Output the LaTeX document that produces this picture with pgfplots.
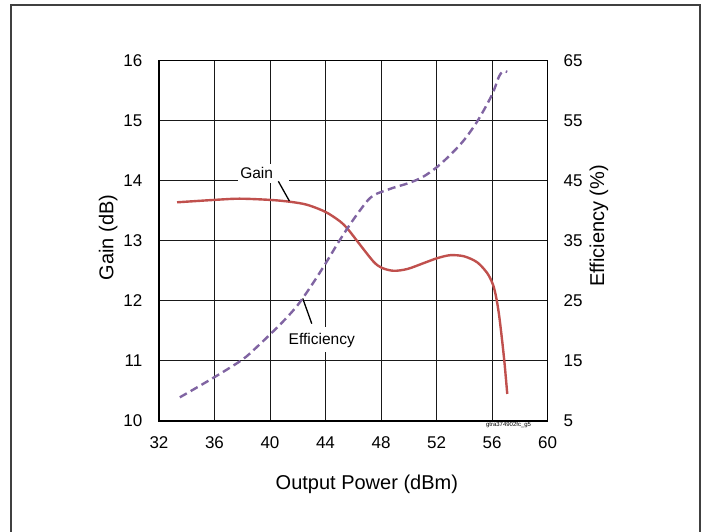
\documentclass[border=0pt]{standalone}
\usepackage{fontspec}
\setmainfont{Liberation Sans}
\usepackage{pgfplots}
\pgfplotsset{compat=1.18}
\definecolor{gainred}{HTML}{C0504D}
\definecolor{effpurple}{HTML}{8064A2}

% gain (dB) vs output power (dBm)
\pgfplotstableread{
x y
33.3 13.64
36.0 13.68
37.8 13.70
40.0 13.68
41.4 13.65
42.65 13.60
44.0 13.48
45.06 13.32
45.66 13.18
46.5 12.93
47.47 12.65
48.05 12.55
48.9 12.50
49.9 12.53
51.1 12.63
52.05 12.71
53.0 12.76
54.0 12.74
54.94 12.64
55.66 12.46
56.07 12.27
56.3 12.06
56.5 11.78
56.7 11.40
56.9 10.97
57.1 10.45
}\gaindata

% efficiency (%) vs output power (dBm)
\pgfplotstableread{
x y
33.5 8.95
34.0 9.6
36.0 12.3
38.0 15.2
39.0 17.2
40.0 19.4
41.0 21.7
42.0 24.3
43.0 27.6
44.0 31.2
45.0 35.0
46.0 38.5
47.0 41.6
47.5 42.6
48.0 43.1
49.0 43.9
50.0 44.6
51.0 45.6
52.0 47.2
53.0 49.3
54.0 51.8
55.0 55.1
56.0 59.3
56.5 62.3
56.8 63.2
57.1 63.1
}\effdata

\begin{document}
\begin{tikzpicture}[x=1pt,y=1pt]
\useasboundingbox (0,0) rectangle (704,531);
\draw[line width=2pt,black!75] (11,-2) -- (11,526.3) -- (699.5,526.3) -- (699.5,-2);

\begin{axis}[
    at={(159pt,110pt)}, anchor=south west,
    scale only axis, width=388.5pt, height=360.5pt,
    xmin=32, xmax=60, ymin=10, ymax=16,
    xtick={32,36,...,60}, ytick={10,11,...,16},
    grid=major, major grid style={black!90, line width=1pt},
    axis line style={line width=1.6pt},
    major tick length=0pt,
    tick label style={font=\fontsize{17}{20}\selectfont, inner sep=0pt,
        /pgf/number format/assume math mode=true},
    xticklabel shift=15.5pt, yticklabel shift=16.5pt,
    xlabel={Output Power (dBm)},
    xlabel style={at={(axis description cs:0.535,-0.175)}, anchor=center,
        font=\fontsize{20}{24}\selectfont},
    ylabel={Gain (dB)},
    ylabel style={at={(axis description cs:-0.131,0.509)}, anchor=center,
        font=\fontsize{20}{24}\selectfont},
    clip=false,
]
\addplot[gainred, line width=2.4pt, smooth] table {\gaindata};

% label boxes over the grid
\fill[white] (axis cs:37.7,13.96) rectangle (axis cs:41.4,14.28);
\fill[white] (axis cs:41.25,11.15) rectangle (axis cs:46.15,11.57);
\node[font=\fontsize{15.5}{18}\selectfont] at (axis cs:39.04,14.12) {Gain};
\node[font=\fontsize{15.5}{18}\selectfont] at (axis cs:43.73,11.34) {Efficiency};
\draw[line width=1.3pt] (axis cs:40.6,13.99) -- (axis cs:41.4,13.66);
\draw[line width=1.3pt] (axis cs:42.36,12.04) -- (axis cs:43.01,11.62);
\node[anchor=north east, inner sep=0pt, font=\fontsize{6}{7}\selectfont]
    at (axis cs:58.83,9.985) {gtra374902fc\_g5};
\end{axis}

\begin{axis}[
    at={(159pt,110pt)}, anchor=south west,
    scale only axis, width=388.5pt, height=360.5pt,
    xmin=32, xmax=60, ymin=5, ymax=65,
    axis x line=none, axis y line*=right,
    ytick={5,15,...,65},
    axis line style={line width=1.6pt},
    major tick length=0pt,
    tick label style={font=\fontsize{17}{20}\selectfont, inner sep=0pt,
        /pgf/number format/assume math mode=true},
    yticklabel shift=16pt,
    ylabel={Efficiency (\%)},
    ylabel style={at={(axis description cs:1.1326,0.541)}, anchor=center,
        rotate=0, font=\fontsize{20}{24}\selectfont},
]
\addplot[effpurple, line width=2.4pt, smooth, dash pattern=on 8pt off 4.5pt] table {\effdata};
\end{axis}
\end{tikzpicture}
\end{document}
